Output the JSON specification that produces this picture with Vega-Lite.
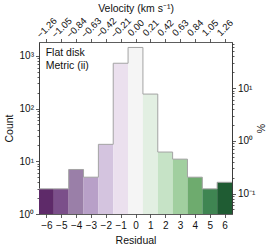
{
  "$schema": "https://vega.github.io/schema/vega-lite/v6.json",
  "width": 193,
  "height": 172,
  "autosize": "none",
  "padding": {"left": 39, "top": 42, "right": 42, "bottom": 35},
  "background": "white",
  "config": {
    "font": "Liberation Sans",
    "view": {"stroke": null},
    "axis": {
      "grid": false,
      "domainColor": "#333",
      "domainWidth": 0.8,
      "tickColor": "#333",
      "tickWidth": 0.8,
      "tickSize": 3.5,
      "labelColor": "#111",
      "labelFontSize": 10,
      "titleColor": "#111",
      "titleFontSize": 10.5,
      "titleFontWeight": "normal",
      "labelPadding": 2
    }
  },
  "data": {
    "values": [
      {"r": -6, "lo": -6.5, "hi": -5.5, "count": 3},
      {"r": -5, "lo": -5.5, "hi": -4.5, "count": 3},
      {"r": -4, "lo": -4.5, "hi": -3.5, "count": 7},
      {"r": -3, "lo": -3.5, "hi": -2.5, "count": 5},
      {"r": -2, "lo": -2.5, "hi": -1.5, "count": 21},
      {"r": -1, "lo": -1.5, "hi": -0.5, "count": 727},
      {"r": 0, "lo": -0.5, "hi": 0.5, "count": 1450},
      {"r": 1, "lo": 0.5, "hi": 1.5, "count": 189},
      {"r": 2, "lo": 1.5, "hi": 2.5, "count": 15},
      {"r": 3, "lo": 2.5, "hi": 3.5, "count": 11},
      {"r": 4, "lo": 3.5, "hi": 4.5, "count": 5},
      {"r": 5, "lo": 4.5, "hi": 5.5, "count": 3},
      {"r": 6, "lo": 5.5, "hi": 6.5, "count": 4}
    ]
  },
  "layer": [
    {
      "mark": {"type": "rect"},
      "encoding": {
        "x": {
          "field": "lo", "type": "quantitative",
          "scale": {"domain": [-6.5, 6.5], "nice": false, "zero": false},
          "axis": {"orient": "bottom", "values": [-6, -5, -4, -3, -2, -1, 0, 1, 2, 3, 4, 5, 6], "title": "Residual", "titlePadding": 5, "labelPadding": 3}
        },
        "x2": {"field": "hi"},
        "y": {
          "field": "count", "type": "quantitative",
          "scale": {"type": "log", "domain": [1, 1840], "nice": false},
          "axis": {"orient": "left", "values": [1, 10, 100, 1000], "title": "Count", "titlePadding": 4,
            "labelExpr": "datum.value==1?'10⁰':datum.value==10?'10¹':datum.value==100?'10²':'10³'"}
        },
        "y2": {"datum": 1},
        "color": {
          "field": "r", "type": "ordinal",
          "scale": {
            "domain": [-6, -5, -4, -3, -2, -1, 0, 1, 2, 3, 4, 5, 6],
            "range": ["#5e2a69", "#7b4f8a", "#9a7fa8", "#b8a0c8", "#d4c4df", "#ebe0ee", "#f5f5f5", "#e2efe2", "#c6e3c6", "#a1cf9f", "#6eab6e", "#3f8552", "#1f5c33"]
          },
          "legend": null
        }
      }
    },
    {
      "transform": [{"fold": ["lo", "hi"], "as": ["key", "edge"]}],
      "mark": {"type": "line", "color": "#a3a3a3", "strokeWidth": 1},
      "encoding": {
        "x": {
          "field": "edge", "type": "quantitative",
          "scale": {"domain": [-6.5, 6.5], "nice": false, "zero": false},
          "axis": {"orient": "top", "values": [-6, -5, -4, -3, -2, -1, 0, 1, 2, 3, 4, 5, 6],
            "labelExpr": "format(datum.value*0.21, '.2f')",
            "labelAngle": -45, "labelAlign": "center", "labelBaseline": "middle", "labelPadding": 11,
            "labelOverlap": false, "labelFontSize": 9.5,
            "title": "Velocity (km s⁻¹)", "titleY": -29, "titleBaseline": "bottom"}
        },
        "y": {
          "field": "count", "type": "quantitative",
          "scale": {"type": "log", "domain": [1, 1840], "nice": false},
          "axis": {"orient": "left", "values": [2, 3, 4, 5, 6, 7, 8, 9, 20, 30, 40, 50, 60, 70, 80, 90, 200, 300, 400, 500, 600, 700, 800, 900], "labels": false, "tickSize": 2, "title": null}
        },
        "order": [{"field": "edge", "type": "quantitative"}, {"field": "key", "type": "nominal"}]
      }
    },
    {
      "mark": {"type": "rule", "opacity": 0},
      "encoding": {
        "y": {
          "field": "count", "type": "quantitative",
          "scale": {"type": "log", "domain": [0.04093, 75.3], "nice": false},
          "axis": {"orient": "right", "values": [0.1, 1, 10], "title": "%", "titleAngle": -90, "titlePadding": 12,
            "labelExpr": "datum.value==0.1?'10⁻¹':datum.value==1?'10⁰':'10¹'"}
        }
      }
    },
    {
      "mark": {"type": "rule", "opacity": 0},
      "encoding": {
        "y": {
          "field": "count", "type": "quantitative",
          "scale": {"type": "log", "domain": [0.04093, 75.3], "nice": false},
          "axis": {"orient": "right", "values": [0.05, 0.06, 0.07, 0.08, 0.09, 0.2, 0.3, 0.4, 0.5, 0.6, 0.7, 0.8, 0.9, 2, 3, 4, 5, 6, 7, 8, 9, 20, 30, 40, 50, 60, 70], "labels": false, "tickSize": 2, "title": null}
        }
      }
    },
    {
      "data": {"values": [{"label": "Flat disk"}]},
      "mark": {"type": "text", "align": "left", "baseline": "top", "fontSize": 10.5, "lineHeight": 12.5, "color": "#111"},
      "encoding": {
        "x": {"datum": -6.05, "type": "quantitative", "scale": {"domain": [-6.5, 6.5], "nice": false, "zero": false}, "axis": null},
        "y": {"datum": 1400, "type": "quantitative", "scale": {"type": "log", "domain": [1, 1840], "nice": false}, "axis": null},
        "text": {"value": ["Flat disk", "Metric (ii)"]}
      }
    }
  ],
  "resolve": {"scale": {"y": "independent"}, "axis": {"x": "independent", "y": "independent"}}
}
